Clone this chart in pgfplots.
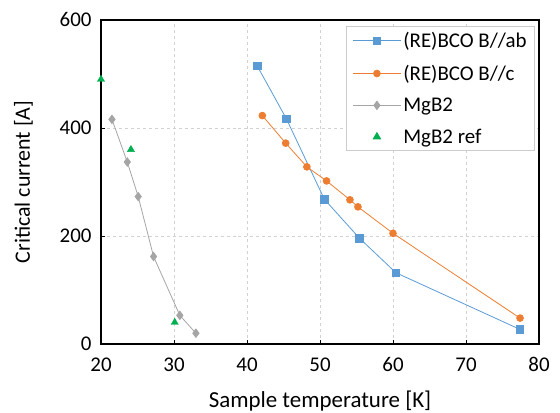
\documentclass[border=0pt]{standalone}
\usepackage{fontspec}
\setmainfont{Carlito}
\usepackage{pgfplots}
\pgfplotsset{compat=1.18}

\definecolor{cblue}{RGB}{91,155,213}
\definecolor{corange}{RGB}{237,125,49}
\definecolor{cgray}{RGB}{165,165,165}
\definecolor{cgreen}{RGB}{0,176,80}

\begin{document}
\begin{tikzpicture}
\begin{axis}[
    scale only axis,
    width=438bp, height=324bp,
    xmin=20, xmax=80, ymin=0, ymax=600,
    xtick={20,30,...,80}, ytick={0,200,400,600},
    tick pos=left,
    tick align=inside,
    major tick length=4bp,
    axis line style={black, line width=1.2pt},
    every tick/.style={black, line width=1pt},
    grid=major,
    major grid style={dashed, gray!35, line width=0.6pt},
    font=\fontsize{21}{23}\selectfont,
    /pgf/number format/assume math mode=true,
    xticklabel style={yshift=-10bp},
    yticklabel style={xshift=-6bp},
    xlabel={Sample temperature [K]},
    ylabel={Critical current [A]},
    xlabel style={font=\fontsize{23}{25}\selectfont, yshift=-12bp},
    ylabel style={font=\fontsize{22}{24}\selectfont, yshift=20bp},
    legend style={at={(0.991,0.9815)}, anchor=north east, draw=gray!40, line width=0.8pt,
        fill=white, font=\fontsize{21}{23}\selectfont, inner xsep=6pt, inner ysep=4pt,
        row sep=12pt, cells={anchor=west}},
    legend image code/.code={\draw[mark repeat=2, mark phase=2, #1]
        plot coordinates {(0bp,0bp) (24bp,0bp) (48bp,0bp)};},
]
\addplot[cblue, line width=0.8pt, mark=square*, mark size=3.8pt, mark options={solid, fill=cblue}] coordinates {
    (41.4,515) (45.4,417) (50.6,268) (55.4,196) (60.4,132) (77.4,27)
};
\addlegendentry{(RE)BCO B//ab}
\addplot[corange, line width=0.8pt, mark=*, mark size=3.4pt, mark options={solid, fill=corange}] coordinates {
    (42.1,423) (45.3,372) (48.2,328) (50.9,302) (54.1,267) (55.2,254) (60.0,205) (77.4,48)
};
\addlegendentry{(RE)BCO B//c}
\addplot[cgray, line width=0.8pt, mark=diamond*, mark size=4.2pt, mark options={solid, fill=cgray}] coordinates {
    (21.5,416) (23.6,337) (25.1,273) (27.2,162) (30.8,53) (33.0,20)
};
\addlegendentry{MgB2}
\addplot[only marks, mark=triangle*, mark size=4.2pt, cgreen, mark options={fill=cgreen}] coordinates {
    (20.0,490) (24.1,360) (30.1,40)
};
\addlegendentry{MgB2 ref}
\end{axis}
\pgfresetboundingbox
\path (current axis.south west) +(-101bp,-68bp) (current axis.north east) +(21bp,20bp);
\end{tikzpicture}
\end{document}
